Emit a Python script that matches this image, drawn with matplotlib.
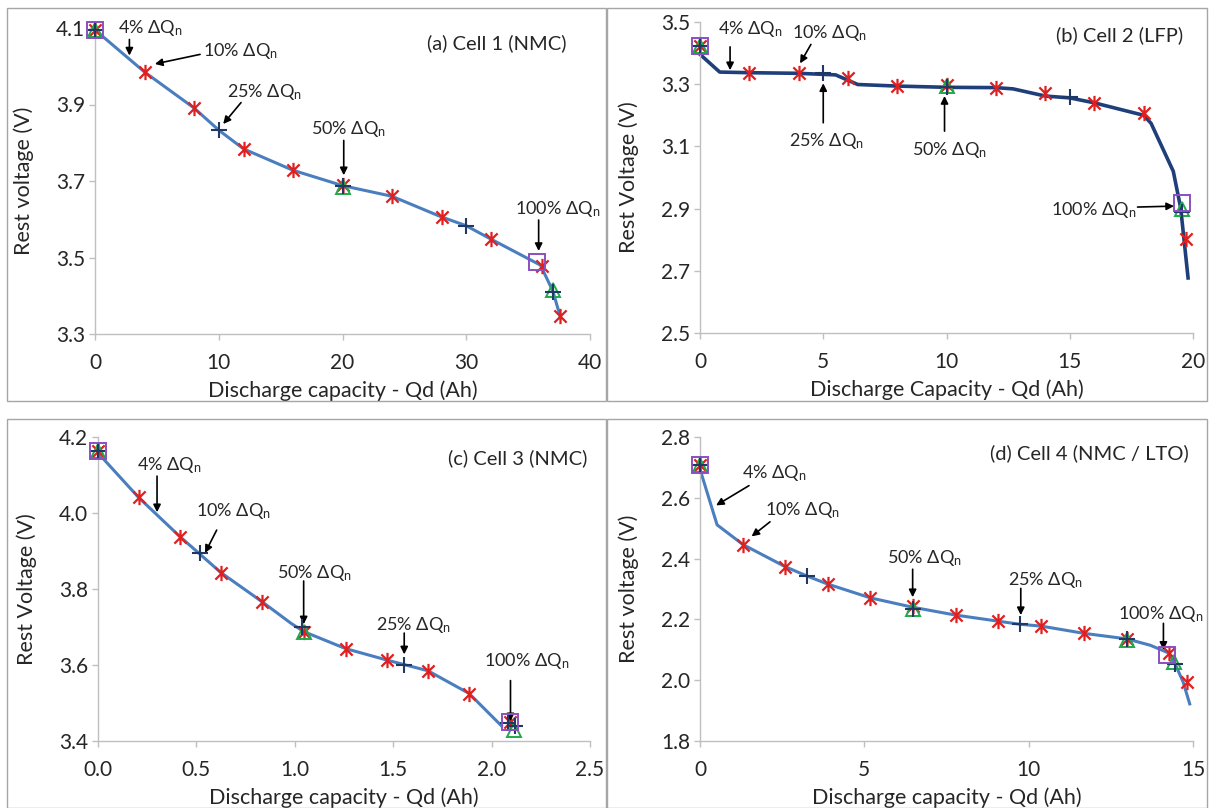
import matplotlib
matplotlib.use("Agg")
import matplotlib.pyplot as plt
from matplotlib.path import Path
from matplotlib.patches import Rectangle

plt.rcParams['font.family'] = ['Lato', 'DejaVu Sans']
plt.rcParams['mathtext.fontset'] = 'custom'
plt.rcParams['mathtext.rm'] = 'Lato'
plt.rcParams['mathtext.it'] = 'Lato:italic'

# ---------------- data ----------------
# Cell 1 (NMC)
c1_line_q = [0, 4, 8, 10, 12, 16, 20, 24, 28, 30, 32, 36, 37, 37.6]
c1_line_v = [4.095, 3.985, 3.891, 3.833, 3.784, 3.728, 3.688, 3.660, 3.606, 3.583, 3.548, 3.480, 3.412, 3.345]
c1_10_q = [0, 4, 8, 12, 16, 20, 24, 28, 32, 36.1, 37.6]
c1_10_v = [4.095, 3.985, 3.891, 3.784, 3.728, 3.690, 3.660, 3.606, 3.548, 3.479, 3.347]
c1_25_q = [0, 10, 20, 30, 37.0]
c1_25_v = [4.095, 3.833, 3.688, 3.583, 3.409]
c1_50_q = [0, 20, 37.0]
c1_50_v = [4.095, 3.684, 3.416]
c1_100_q = [0, 35.7]
c1_100_v = [4.095, 3.487]

# Cell 2 (LFP)
c2_line_q = [0, 0.8, 2, 4, 5.5, 6.4, 8, 10, 12, 12.7, 14, 15, 16, 18, 18.3, 19.2, 19.5, 19.8]
c2_line_v = [3.396, 3.339, 3.337, 3.335, 3.330, 3.299, 3.294, 3.290, 3.289, 3.285, 3.262, 3.256, 3.240, 3.200, 3.174, 3.020, 2.902, 2.677]
c2_10_q = [0, 2, 4, 6, 8, 10, 12, 14, 16, 18, 19.7]
c2_10_v = [3.423, 3.335, 3.335, 3.321, 3.294, 3.299, 3.289, 3.273, 3.240, 3.206, 2.803]
c2_25_q = [0, 5, 10, 15, 19.55]
c2_25_v = [3.423, 3.335, 3.290, 3.259, 2.890]
c2_50_q = [0, 10, 19.55]
c2_50_v = [3.423, 3.293, 2.900]
c2_100_q = [0, 19.55]
c2_100_v = [3.423, 2.918]

# Cell 3 (NMC)
c3_line_q = [0, 0.206, 0.416, 0.625, 0.835, 0.98, 1.045, 1.259, 1.468, 1.556, 1.676, 1.886, 2.05]
c3_line_v = [4.158, 4.041, 3.938, 3.843, 3.766, 3.710, 3.688, 3.643, 3.613, 3.601, 3.585, 3.525, 3.440]
c3_10_q = [0, 0.206, 0.416, 0.625, 0.835, 1.045, 1.259, 1.468, 1.676, 1.886, 2.096]
c3_10_v = [4.163, 4.041, 3.938, 3.843, 3.766, 3.688, 3.643, 3.613, 3.585, 3.525, 3.450]
c3_25_q = [0, 0.517, 1.035, 1.556, 2.085, 2.12]
c3_25_v = [4.163, 3.894, 3.699, 3.601, 3.448, 3.440]
c3_50_q = [0, 1.045, 2.115]
c3_50_v = [4.163, 3.688, 3.428]
c3_100_q = [0, 2.096]
c3_100_v = [4.163, 3.450]

# Cell 4 (NMC / LTO)
c4_line_q = [0, 0.52, 1.31, 2.6, 3.25, 3.89, 5.18, 6.47, 7.79, 9.08, 9.73, 10.38, 11.69, 12.98, 13.7, 14.27, 14.45, 14.7, 14.9]
c4_line_v = [2.694, 2.511, 2.446, 2.373, 2.343, 2.316, 2.271, 2.240, 2.214, 2.194, 2.184, 2.178, 2.154, 2.136, 2.115, 2.089, 2.055, 1.994, 1.922]
c4_10_q = [0, 1.31, 2.6, 3.89, 5.18, 6.47, 7.79, 9.08, 10.38, 11.69, 12.98, 14.27, 14.82]
c4_10_v = [2.707, 2.444, 2.373, 2.316, 2.271, 2.244, 2.214, 2.194, 2.178, 2.154, 2.136, 2.089, 1.994]
c4_25_q = [0, 3.25, 6.47, 9.73, 12.98, 14.45]
c4_25_v = [2.707, 2.343, 2.235, 2.184, 2.136, 2.052]
c4_50_q = [0, 6.47, 12.98, 14.42]
c4_50_v = [2.707, 2.233, 2.133, 2.059]
c4_100_q = [0, 14.21]
c4_100_v = [2.707, 2.084]

titles = ["(a) Cell 1 (NMC)", "(b) Cell 2 (LFP)", "(c) Cell 3 (NMC)", "(d) Cell 4 (NMC / LTO)"]
ylabels = ["Rest voltage (V)", "Rest Voltage (V)", "Rest Voltage (V)", "Rest voltage (V)"]
xlabels = ["Discharge capacity - Qd (Ah)", "Discharge Capacity - Qd (Ah)",
           "Discharge capacity - Qd (Ah)", "Discharge capacity - Qd (Ah)"]
xticks = [[0, 10, 20, 30, 40], [0, 5, 10, 15, 20], [0.0, 0.5, 1.0, 1.5, 2.0, 2.5], [0, 5, 10, 15]]
xticklabels = [["0", "10", "20", "30", "40"], ["0", "5", "10", "15", "20"],
               ["0.0", "0.5", "1.0", "1.5", "2.0", "2.5"], ["0", "5", "10", "15"]]
yticks = [[3.3, 3.5, 3.7, 3.9, 4.1], [2.5, 2.7, 2.9, 3.1, 3.3, 3.5],
          [3.4, 3.6, 3.8, 4.0, 4.2], [1.8, 2.0, 2.2, 2.4, 2.6, 2.8]]
yticklabels = [["3.3", "3.5", "3.7", "3.9", "4.1"], ["2.5", "2.7", "2.9", "3.1", "3.3", "3.5"],
               ["3.4", "3.6", "3.8", "4.0", "4.2"], ["1.8", "2.0", "2.2", "2.4", "2.6", "2.8"]]

step_labels = ["4%", "10%", "25%", "50%", "100%"]

# annotations: (label index, text xy, arrow start, arrow end)
ann1 = [(0, (1.84, 4.100), (2.78, 4.070), (2.78, 4.028)),
        (1, (8.7, 4.041), (8.49, 4.031), (4.84, 4.006)),
        (2, (10.67, 3.933), (11.8, 3.905), (10.36, 3.849)),
        (3, (17.47, 3.836), (20.1, 3.806), (20.1, 3.715)),
        (4, (33.9, 3.628), (35.85, 3.598), (35.85, 3.517))]
ann2 = [(0, (0.72, 3.476), (1.22, 3.420), (1.22, 3.345)),
        (1, (3.75, 3.466), (4.5, 3.428), (4.06, 3.367)),
        (2, (3.6, 3.117), (5.0, 3.176), (5.0, 3.303)),
        (3, (8.6, 3.090), (9.92, 3.149), (9.92, 3.262)),
        (4, (14.23, 2.897), (17.75, 2.905), (19.23, 2.908))]
ann3 = [(0, (0.20, 4.127), (0.30, 4.097), (0.30, 4.002)),
        (1, (0.50, 4.004), (0.603, 3.955), (0.544, 3.895)),
        (3, (0.91, 3.843), (1.045, 3.821), (1.045, 3.707)),
        (2, (1.415, 3.704), (1.556, 3.684), (1.556, 3.628)),
        (4, (1.96, 3.611), (2.096, 3.559), (2.096, 3.452))]
ann4 = [(0, (1.29, 2.683), (1.49, 2.640), (0.49, 2.575)),
        (1, (1.99, 2.559), (2.13, 2.521), (1.57, 2.473)),
        (3, (5.69, 2.403), (6.47, 2.365), (6.47, 2.273)),
        (2, (9.38, 2.329), (9.76, 2.302), (9.76, 2.214)),
        (4, (12.72, 2.219), (14.1, 2.187), (14.1, 2.100))]

panels = [
    (c1_line_q, c1_line_v, c1_10_q, c1_10_v, c1_25_q, c1_25_v, c1_50_q, c1_50_v, c1_100_q, c1_100_v, ann1),
    (c2_line_q, c2_line_v, c2_10_q, c2_10_v, c2_25_q, c2_25_v, c2_50_q, c2_50_v, c2_100_q, c2_100_v, ann2),
    (c3_line_q, c3_line_v, c3_10_q, c3_10_v, c3_25_q, c3_25_v, c3_50_q, c3_50_v, c3_100_q, c3_100_v, ann3),
    (c4_line_q, c4_line_v, c4_10_q, c4_10_v, c4_25_q, c4_25_v, c4_50_q, c4_50_v, c4_100_q, c4_100_v, ann4),
]

# ---------------- layout / style ----------------
W, H = 1209, 808
# (x0 px, x1 px, ytop px, ybottom px)
boxes = [(95, 590, 28, 334), (700, 1193, 22, 333), (98, 590, 437, 741), (700, 1193, 437, 741)]
frames = [(7, 8, 606, 401), (607, 8, 1207, 401), (7, 419, 606, 808), (607, 419, 1207, 808)]
title_pos = [(38.07, 4.061), (19.58, 3.458), (2.485, 4.144), (14.86, 2.746)]

line_colors = ["#4a7ebf", "#1f3f7a", "#4a7ebf", "#4a7ebf"]
line_widths = [2.2, 2.6, 2.2, 2.2]
red = "#e0201f"
navy = "#1f3864"
green = "#1faa4a"
purple = "#8a4fc0"
grey = "#bfbfbf"

asterisk = Path([(-1, -1), (1, 1), (-1, 1), (1, -1), (0, -1.25), (0, 1.25)],
                [Path.MOVETO, Path.LINETO, Path.MOVETO, Path.LINETO, Path.MOVETO, Path.LINETO])

fig = plt.figure(figsize=(W / 100, H / 100), dpi=100)

for (fx0, fy0, fx1, fy1) in frames:
    fig.add_artist(Rectangle((fx0 / W, 1 - fy1 / H), (fx1 - fx0) / W, (fy1 - fy0) / H,
                             transform=fig.transFigure, fill=False, edgecolor="#a6a6a6", lw=1.0))

for i, p in enumerate(panels):
    (lq, lv, q10, v10, q25, v25, q50, v50, q100, v100, anns) = p
    x0, x1, yt, yb = boxes[i]
    ax = fig.add_axes([x0 / W, 1 - yb / H, (x1 - x0) / W, (yb - yt) / H])
    ax.set_xlim(xticks[i][0], xticks[i][-1])
    ax.set_ylim(yticks[i][0], yticks[i][-1])
    ax.plot(lq, lv, color=line_colors[i], lw=line_widths[i], zorder=2, clip_on=False)
    ax.plot(q10, v10, ls="none", marker=asterisk, ms=11, mec=red, mfc="none", mew=1.6, zorder=3, clip_on=False)
    ax.plot(q50, v50, ls="none", marker="^", ms=10, mec=green, mfc="none", mew=1.4, zorder=4, clip_on=False)
    ax.plot(q25, v25, ls="none", marker="+", ms=12, mec=navy, mew=1.5, zorder=5, clip_on=False)
    ax.plot(q100, v100, ls="none", marker="s", ms=11, mec=purple, mfc="none", mew=1.4, zorder=6, clip_on=False)

    for spine in ["top", "right"]:
        ax.spines[spine].set_visible(False)
    for spine in ["left", "bottom"]:
        ax.spines[spine].set_color(grey)
        ax.spines[spine].set_linewidth(1.0)
    ax.set_xticks(xticks[i])
    ax.set_xticklabels(xticklabels[i])
    ax.set_yticks(yticks[i])
    ax.set_yticklabels(yticklabels[i])
    ax.tick_params(axis="both", direction="out", length=4, width=1.0, color=grey,
                   labelsize=15, labelcolor="#262626")
    ax.tick_params(axis="x", pad=10)
    ax.tick_params(axis="y", pad=3)
    ax.set_xlabel(xlabels[i], fontsize=15.5, color="#262626", labelpad=5)
    ax.set_ylabel(ylabels[i], fontsize=15.5, color="#262626", labelpad=16)

    tx, ty = title_pos[i]
    ax.text(tx, ty, titles[i], ha="right", va="center", fontsize=14.5, color="#262626")

    for (li, txy, a0, a1) in anns:
        ax.text(txy[0], txy[1], step_labels[li] + r" ΔQ$_\mathrm{n}$", ha="left", va="center",
                fontsize=13, color="#262626")
        ax.annotate("", xy=a1, xytext=a0,
                    arrowprops=dict(arrowstyle="-|>", color="black", lw=1.2,
                                    mutation_scale=11, shrinkA=0, shrinkB=0))

fig.savefig("out.png", dpi=100)
